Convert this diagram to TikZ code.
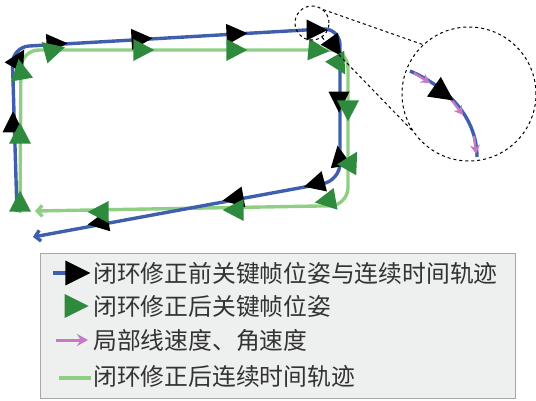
\documentclass[tikz,border=0pt]{standalone}
\usepackage{fontspec}
\newfontfamily\cjk{Noto Sans CJK SC}
\usetikzlibrary{shapes.geometric,arrows.meta}
\definecolor{trajblue}{HTML}{3F5FAE}
\definecolor{trajgreen}{HTML}{8ECF84}
\definecolor{kfgreen}{HTML}{2E8B3E}
\definecolor{velpink}{HTML}{C47BC4}
\definecolor{legfill}{HTML}{EEEFEF}
\definecolor{legedge}{HTML}{A8A8A8}
\definecolor{legtext}{HTML}{333333}
\begin{document}
\begin{tikzpicture}[x=1pt,y=-1pt,
  tri/.style={isosceles triangle, isosceles triangle stretches, inner sep=0pt, outer sep=0pt, draw=none},
  kfb/.style={tri, fill=black, minimum height=21pt, minimum width=21pt},
  kfg/.style={tri, fill=kfgreen, minimum height=21pt, minimum width=22pt},
  bluetraj/.style={draw=trajblue, line width=3.4pt},
  greentraj/.style={draw=trajgreen, line width=3.4pt},
  endtip/.style={-{Straight Barb[length=5pt,width=11pt]}},
  velarrow/.style={draw=velpink, line width=2.4pt, -{Stealth[length=9pt,width=10pt]}},
  zoomline/.style={draw=black, dashed, line width=1pt},
  legtxt/.style={anchor=west, inner sep=0pt, text=legtext, font=\cjk\fontsize{23.8}{28}\selectfont}
]
\useasboundingbox (0,0) rectangle (536,401);

% trajectories
\draw[greentraj, endtip, rounded corners=18pt] (20,213) -- (21,50) -- (348,50) -- (348,205.5) -- (35,211);
\draw[bluetraj, endtip, rounded corners=17pt] (17,212) -- (12,47) -- (340,28) -- (340,180.5) -- (33,237);

% keyframes before correction
\node[kfb, rotate=90]  (k1)  at (13,126) {};
\node[kfb, rotate=60]  (k2)  at (17,62) {};
\node[kfb, rotate=3]   (k3)  at (53,44) {};
\node[kfb, rotate=3]   (k4)  at (138,39) {};
\node[kfb, rotate=3]   (k5)  at (233,34) {};
\node[kfb, rotate=0]   (k6)  at (313,30) {};
\node[kfb, rotate=-55] (k7)  at (333,44) {};
\node[kfb, rotate=-90] (k8)  at (339,98) {};
\node[kfb, rotate=100] (k9)  at (340,160) {};
\node[kfb, rotate=195] (k10) at (318,183) {};
\node[kfb, rotate=190] (k11) at (237,198) {};
\node[kfb, rotate=190] (k12) at (102,222) {};

% keyframes after correction
\node[kfg, rotate=90]  (g1)  at (20,205) {};
\node[kfg, rotate=90]  (g2)  at (20,137) {};
\node[kfg, rotate=100] (g3)  at (21,73) {};
\node[kfg, rotate=15]  (g4)  at (51,51) {};
\node[kfg, rotate=0]   (g5)  at (140,50) {};
\node[kfg, rotate=0]   (g6)  at (233,50) {};
\node[kfg, rotate=-5]  (g7)  at (315,50) {};
\node[kfg, rotate=-60] (g8)  at (338,62) {};
\node[kfg, rotate=-90] (g9)  at (348,107) {};
\node[kfg, rotate=60]  (g10) at (350,164) {};
\node[kfg, rotate=190] (g11) at (329,200) {};
\node[kfg, rotate=180] (g12) at (237,210) {};
\node[kfg, rotate=180] (g13) at (102,212) {};

% zoom circles
\node[circle, draw=black, dashed, line width=1pt, minimum size=34pt, inner sep=0pt] (zs) at (312,23) {};
\node[circle, draw=black, dashed, line width=1pt, minimum size=134pt, inner sep=0pt] (zb) at (469,94) {};
\draw[zoomline] (zs.50) -- (zb.133);
\draw[zoomline] (zs.-55) -- (zb.-147);

% inset
\coordinate (i0) at (410,71);
\coordinate (i1) at (477,157);
\draw[bluetraj] (i0) .. controls (447,87) and (477,117) .. (i1);
\coordinate (p1a) at (414,73);
\coordinate (p1b) at (430,83);
\coordinate (p2a) at (450,98);
\coordinate (p2b) at (463,115);
\coordinate (p3a) at (474,136);
\coordinate (p3b) at (476,154);
\draw[velarrow] (p1a) -- (p1b);
\draw[velarrow] (p2a) -- (p2b);
\draw[velarrow] (p3a) -- (p3b);
\node[kfb, rotate=-35, minimum height=24pt, minimum width=24pt] (ki) at (440,91) {};

% legend
\node[draw=legedge, fill=legfill, line width=1pt, minimum width=475pt, minimum height=145pt, inner sep=0pt, anchor=north west] (leg) at (40,253) {};
\coordinate (l1a) at (53,273);
\coordinate (l1b) at (70,273);
\draw[bluetraj, line width=4pt] (l1a) -- (l1b);
\node[kfb, minimum height=25pt, minimum width=25pt] (lk) at (73,273) {};
\node[kfg, minimum height=24pt, minimum width=24pt] (lg) at (72,306) {};
\coordinate (l3a) at (56,340);
\coordinate (l3b) at (88,340);
\draw[velarrow, line width=3pt, -{Stealth[length=11pt,width=12pt]}] (l3a) -- (l3b);
\coordinate (l4a) at (59,378);
\coordinate (l4b) at (91,378);
\draw[greentraj, line width=3.6pt] (l4a) -- (l4b);

\node[legtxt] (t1) at (93,273) {闭环修正前关键帧位姿与连续时间轨迹};
\node[legtxt] (t2) at (93,306) {闭环修正后关键帧位姿};
\node[legtxt] (t3) at (93,340) {局部线速度、角速度};
\node[legtxt] (t4) at (93,376) {闭环修正后连续时间轨迹};
\end{tikzpicture}
\end{document}
